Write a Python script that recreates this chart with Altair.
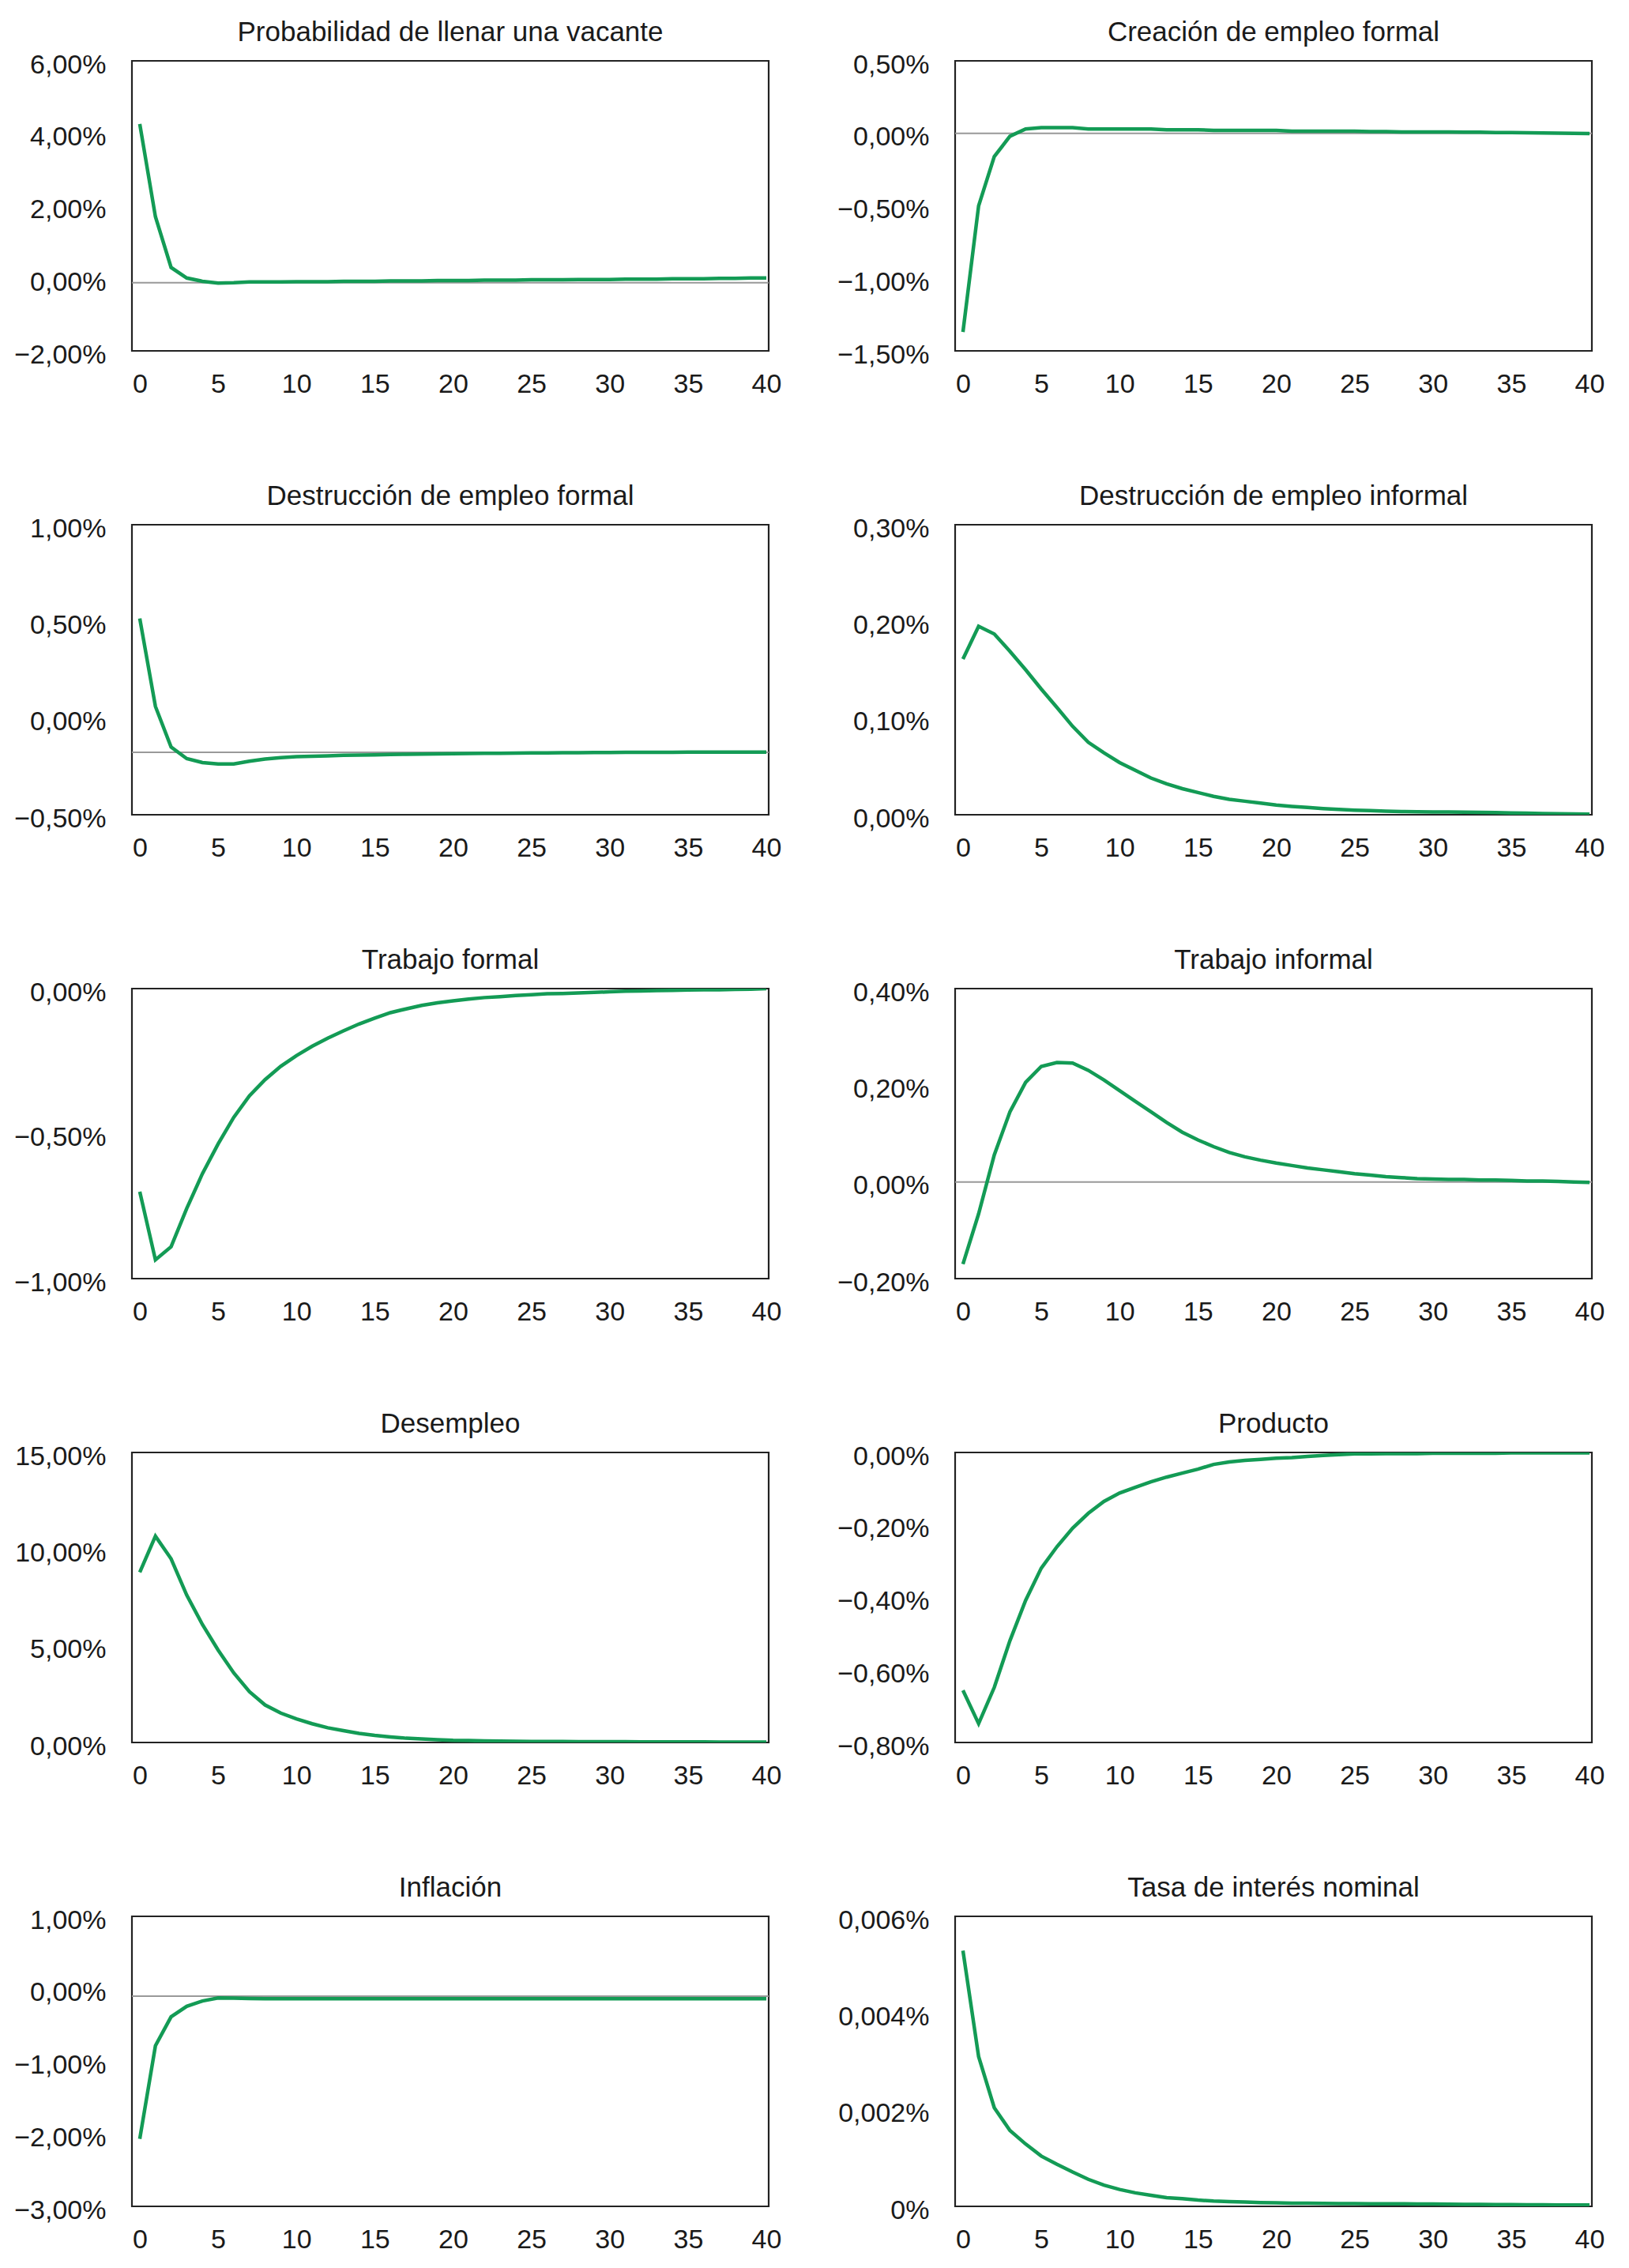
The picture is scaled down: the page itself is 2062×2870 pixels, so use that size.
import altair as alt
import pandas as pd

# Horizontal axis: periods after the shock
PERIODOS = [0, 1, 2, 3, 4, 5, 6, 7, 8, 9, 10, 11, 12, 13, 14, 15, 16, 17, 18, 19, 20,
            21, 22, 23, 24, 25, 26, 27, 28, 29, 30, 31, 32, 33, 34, 35, 36, 37, 38, 39, 40]
X_TICKS = [0, 5, 10, 15, 20, 25, 30, 35, 40]

TITULOS = [
    "Probabilidad de llenar una vacante",
    "Creación de empleo formal",
    "Destrucción de empleo formal",
    "Destrucción de empleo informal",
    "Trabajo formal",
    "Trabajo informal",
    "Desempleo",
    "Producto",
    "Inflación",
    "Tasa de interés nominal",
]

# Series values (percent)
PROB_VACANTE = [4.26, 1.70, 0.30, 0.01, -0.08, -0.13, -0.12, -0.10, -0.10, -0.10, -0.09,
                -0.09, -0.09, -0.08, -0.08, -0.08, -0.07, -0.07, -0.07, -0.06, -0.06,
                -0.06, -0.05, -0.05, -0.05, -0.04, -0.04, -0.04, -0.03, -0.03, -0.03,
                -0.02, -0.02, -0.02, -0.01, -0.01, -0.01, 0.00, 0.00, 0.01, 0.01]
CREACION_FORMAL = [-1.37, -0.50, -0.16, -0.02, 0.03, 0.04, 0.04, 0.04, 0.03, 0.03, 0.03,
                   0.03, 0.03, 0.025, 0.025, 0.025, 0.02, 0.02, 0.02, 0.02, 0.02,
                   0.015, 0.015, 0.015, 0.015, 0.015, 0.012, 0.012, 0.01, 0.01, 0.01,
                   0.01, 0.008, 0.008, 0.006, 0.005, 0.004, 0.003, 0.002, 0.0, -0.002]
DESTR_FORMAL = [0.515, 0.06, -0.15, -0.21, -0.23, -0.237, -0.237, -0.223, -0.212, -0.205, -0.200,
                -0.198, -0.195, -0.192, -0.191, -0.190, -0.188, -0.187, -0.186, -0.185, -0.184,
                -0.183, -0.182, -0.182, -0.181, -0.180, -0.180, -0.179, -0.179, -0.178, -0.178,
                -0.177, -0.177, -0.177, -0.177, -0.176, -0.176, -0.176, -0.176, -0.176, -0.176]
DESTR_INFORMAL = [0.161, 0.195, 0.187, 0.169, 0.150, 0.130, 0.111, 0.0915, 0.075, 0.064, 0.054,
                  0.046, 0.038, 0.032, 0.027, 0.023, 0.019, 0.016, 0.014, 0.012, 0.010,
                  0.0086, 0.0075, 0.0064, 0.0055, 0.0047, 0.0042, 0.0036, 0.0033, 0.0030, 0.0029,
                  0.0028, 0.0026, 0.0025, 0.0022, 0.0019, 0.0016, 0.0013, 0.0010, 0.0008, 0.0006]
TRABAJO_FORMAL = [-0.70, -0.935, -0.89, -0.758, -0.638, -0.536, -0.444, -0.370, -0.314, -0.268, -0.231,
                  -0.199, -0.171, -0.146, -0.122, -0.102, -0.083, -0.070, -0.058, -0.049, -0.042,
                  -0.036, -0.031, -0.028, -0.024, -0.021, -0.018, -0.017, -0.015, -0.013, -0.011,
                  -0.009, -0.008, -0.007, -0.006, -0.005, -0.004, -0.004, -0.003, -0.002, 0.0]
TRABAJO_INFORMAL = [-0.170, -0.066, 0.056, 0.145, 0.206, 0.239, 0.247, 0.246, 0.231, 0.211, 0.189,
                    0.167, 0.145, 0.123, 0.103, 0.087, 0.073, 0.061, 0.052, 0.045, 0.039,
                    0.034, 0.029, 0.025, 0.021, 0.017, 0.014, 0.011, 0.009, 0.007, 0.006,
                    0.005, 0.005, 0.004, 0.004, 0.003, 0.002, 0.002, 0.001, 0.000, -0.001]
DESEMPLEO = [8.80, 10.67, 9.50, 7.62, 6.10, 4.78, 3.60, 2.63, 1.94, 1.52, 1.22,
             0.97, 0.76, 0.61, 0.47, 0.37, 0.29, 0.22, 0.18, 0.14, 0.11,
             0.10, 0.08, 0.07, 0.06, 0.05, 0.05, 0.05, 0.04, 0.04, 0.04,
             0.04, 0.03, 0.03, 0.03, 0.03, 0.03, 0.02, 0.02, 0.02, 0.02]
PRODUCTO = [-0.656, -0.748, -0.648, -0.519, -0.408, -0.319, -0.260, -0.209, -0.168, -0.135, -0.112,
            -0.096, -0.081, -0.068, -0.057, -0.046, -0.033, -0.026, -0.022, -0.019, -0.016,
            -0.014, -0.011, -0.008, -0.006, -0.004, -0.004, -0.003, -0.003, -0.003, -0.002,
            -0.002, -0.002, -0.002, -0.002, -0.001, -0.001, -0.001, -0.001, -0.001, -0.001]
INFLACION = [-2.07, -0.785, -0.385, -0.24, -0.167, -0.125, -0.128, -0.133, -0.135, -0.135, -0.135,
             -0.135, -0.135, -0.136, -0.136, -0.136, -0.136, -0.136, -0.136, -0.136, -0.136,
             -0.136, -0.136, -0.136, -0.136, -0.136, -0.136, -0.136, -0.136, -0.136, -0.136,
             -0.136, -0.136, -0.136, -0.136, -0.136, -0.136, -0.136, -0.137, -0.137, -0.137]
TASA_INTERES = [0.00529, 0.00310, 0.00204, 0.00157, 0.00129, 0.00104, 0.00087, 0.00071, 0.00056, 0.00044, 0.00035,
                0.00028, 0.00023, 0.00018, 0.00016, 0.00013, 0.00011, 0.00010, 0.000089, 0.000078, 0.000072,
                0.000067, 0.000064, 0.000061, 0.000059, 0.000056, 0.000055, 0.000053, 0.000052, 0.000051, 0.00005,
                0.000044, 0.000042, 0.00004, 0.000038, 0.000036, 0.000034, 0.000032, 0.00003, 0.000029, 0.000028]

SERIES = [PROB_VACANTE, CREACION_FORMAL, DESTR_FORMAL, DESTR_INFORMAL, TRABAJO_FORMAL,
          TRABAJO_INFORMAL, DESEMPLEO, PRODUCTO, INFLACION, TASA_INTERES]

# Y-axis tick values per panel
Y_TICKS = [
    [-2, 0, 2, 4, 6],
    [-1.5, -1.0, -0.5, 0, 0.5],
    [-0.5, 0, 0.5, 1.0],
    [0, 0.1, 0.2, 0.3],
    [-1.0, -0.5, 0],
    [-0.2, 0, 0.2, 0.4],
    [0, 5, 10, 15],
    [-0.8, -0.6, -0.4, -0.2, 0],
    [-3, -2, -1, 0, 1],
    [0, 0.002, 0.004, 0.006],
]
Y_DECIMALS = [2, 2, 2, 2, 2, 2, 2, 2, 2, 3]

# Grey reference line per panel (None = no line)
REF_LINE = [-0.12, 0.0, -0.177, None, None, 0.0, None, None, -0.10, None]

GREEN = "#139b55"
INK = "#1a1a1a"
FONT = "Liberation Sans"
W, H = 806, 367
Y_EXTENT = 152


def panel(i):
    vals = SERIES[i]
    ticks = Y_TICKS[i]
    dec = Y_DECIMALS[i]
    df = pd.DataFrame({"t": PERIODOS[:len(vals)], "v": vals})
    if dec == 3:
        expr = "datum.value == 0 ? '0%' : replace(format(datum.value, '.3f'), '.', ',') + '%'"
    else:
        expr = "replace(format(datum.value, '.%df'), '.', ',') + '%%'" % dec
    x = alt.X("t:Q",
              scale=alt.Scale(domain=[-0.5, 40.15], nice=False, zero=False),
              axis=alt.Axis(values=X_TICKS, title=None, ticks=False, domain=False, grid=False,
                            labelPadding=25, labelFontSize=34, labelFlush=False,
                            labelColor=INK, labelFont=FONT))
    y = alt.Y("v:Q",
              scale=alt.Scale(domain=[ticks[0], ticks[-1]], nice=False, zero=False),
              axis=alt.Axis(values=ticks, labelExpr=expr, title=None, ticks=False, domain=False,
                            grid=False, labelPadding=33, minExtent=Y_EXTENT, maxExtent=Y_EXTENT,
                            labelOffset=5, labelFontSize=34, labelColor=INK,
                            labelFont=FONT))
    layers = []
    if REF_LINE[i] is not None:
        rdf = pd.DataFrame({"t": [0], "v": [REF_LINE[i]]})
        layers.append(alt.Chart(rdf).mark_rule(color="#999999", strokeWidth=2).encode(y=y))
    layers.append(alt.Chart(df).mark_line(color=GREEN, strokeWidth=4.5, clip=True)
                  .encode(x=x, y=y))
    return alt.layer(*layers).properties(
        width=W, height=H,
        title=alt.TitleParams(TITULOS[i], fontSize=35, fontWeight="normal", color=INK,
                              font=FONT, offset=6, anchor="middle"))


rows = []
for r in range(5):
    rows.append(alt.hconcat(panel(2 * r), panel(2 * r + 1), spacing=64))

chart = alt.vconcat(*rows, spacing=104).properties(
    padding={"left": 5, "top": 14, "right": 5, "bottom": 5}
).configure(
    font=FONT,
    view=alt.ViewConfig(stroke="#222222", strokeWidth=2.2),
)

chart.save("out.html", embed_options={"renderer": "svg", "actions": False})
